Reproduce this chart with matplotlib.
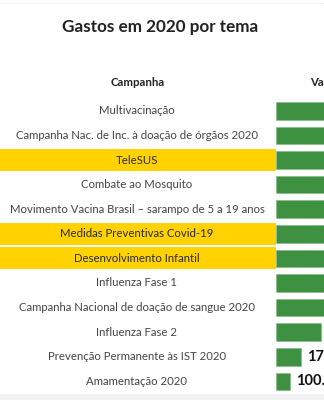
import matplotlib
matplotlib.use("Agg")
import matplotlib.pyplot as plt
from matplotlib.patches import Rectangle

plt.rcParams['font.family'] = ['Lato', 'DejaVu Sans']

title = "Gastos em 2020 por tema"
campanhas = ["Multivacinação",
             "Campanha Nac. de Inc. à doação de órgãos 2020",
             "TeleSUS",
             "Combate ao Mosquito",
             "Movimento Vacina Brasil – sarampo de 5 a 19 anos",
             "Medidas Preventivas Covid-19",
             "Desenvolvimento Infantil",
             "Influenza Fase 1",
             "Campanha Nacional de doação de sangue 2020",
             "Influenza Fase 2",
             "Prevenção Permanente às IST 2020",
             "Amamentação 2020"]
# valores em R$ (os maiores saem do recorte, estimados)
valores = [2400000, 1900000, 1500000, 1200000, 1000000, 800000,
           650000, 500000, 420000, 315000, 172000, 100000]
destaque = ["TeleSUS", "Medidas Preventivas Covid-19", "Desenvolvimento Infantil"]

W, H = 324, 400
fig = plt.figure(figsize=(W / 100, H / 100), dpi=100)
fig.patch.set_facecolor("white")

top_px, pitch = 98.5, 24.6
n = len(campanhas)
ax_h = n * pitch
bottom = (H - top_px - ax_h) / H

bar_x0 = 276
lab = fig.add_axes([0, bottom, bar_x0 / W, ax_h / H])
ax = fig.add_axes([bar_x0 / W, bottom, (W - bar_x0) / W, ax_h / H])

for a in (lab, ax):
    a.set_ylim(n - 0.5, -0.5)
    a.axis("off")

ax.set_xlim(0, 336000)
ypos = list(range(n))
ax.barh(ypos, valores, height=0.72, color="#3d9140", edgecolor="#7fb77f",
        linewidth=0.5, linestyle=(0, (2, 1)))
for y, v in zip(ypos, valores):
    txt = f"{v:,}".replace(",", ".")
    ax.text(v + 6 * 7000, y, txt, va="center", ha="left", fontsize=10.5,
            fontweight="bold", color="#111111", clip_on=False)

lab.set_xlim(0, 1)
for y, c in zip(ypos, campanhas):
    if c in destaque:
        lab.axhspan(y - 0.45, y + 0.45, color="#ffd200", lw=0)
        cor = "#2a2a2a"
    else:
        cor = "#444444"
    lab.text(137 / bar_x0, y, c, ha="center", va="center", fontsize=8.2, color=cor)

fig.text(160 / W, 1 - 27 / H, title, ha="center", va="center", fontsize=12.3,
         fontweight="bold", color="#222222")
fig.text(138 / W, 1 - 83 / H, "Campanha", ha="center", va="center", fontsize=8.2,
         fontweight="bold", color="#222222")
fig.text(310 / W, 1 - 83 / H, "Valor", ha="left", va="center", fontsize=8.2,
         fontweight="bold", color="#222222")

# linha pontilhada no topo e faixa cinza no rodapé
fig.add_artist(plt.Line2D([0, 1], [1 - 3 / H, 1 - 3 / H], color="#dddddd",
                          lw=0.6, linestyle=(0, (1, 2))))
fig.add_artist(Rectangle((0, 0), 1, 6 / H, transform=fig.transFigure,
                         color="#f2f2f2", lw=0))

fig.savefig("out.png", dpi=100)
